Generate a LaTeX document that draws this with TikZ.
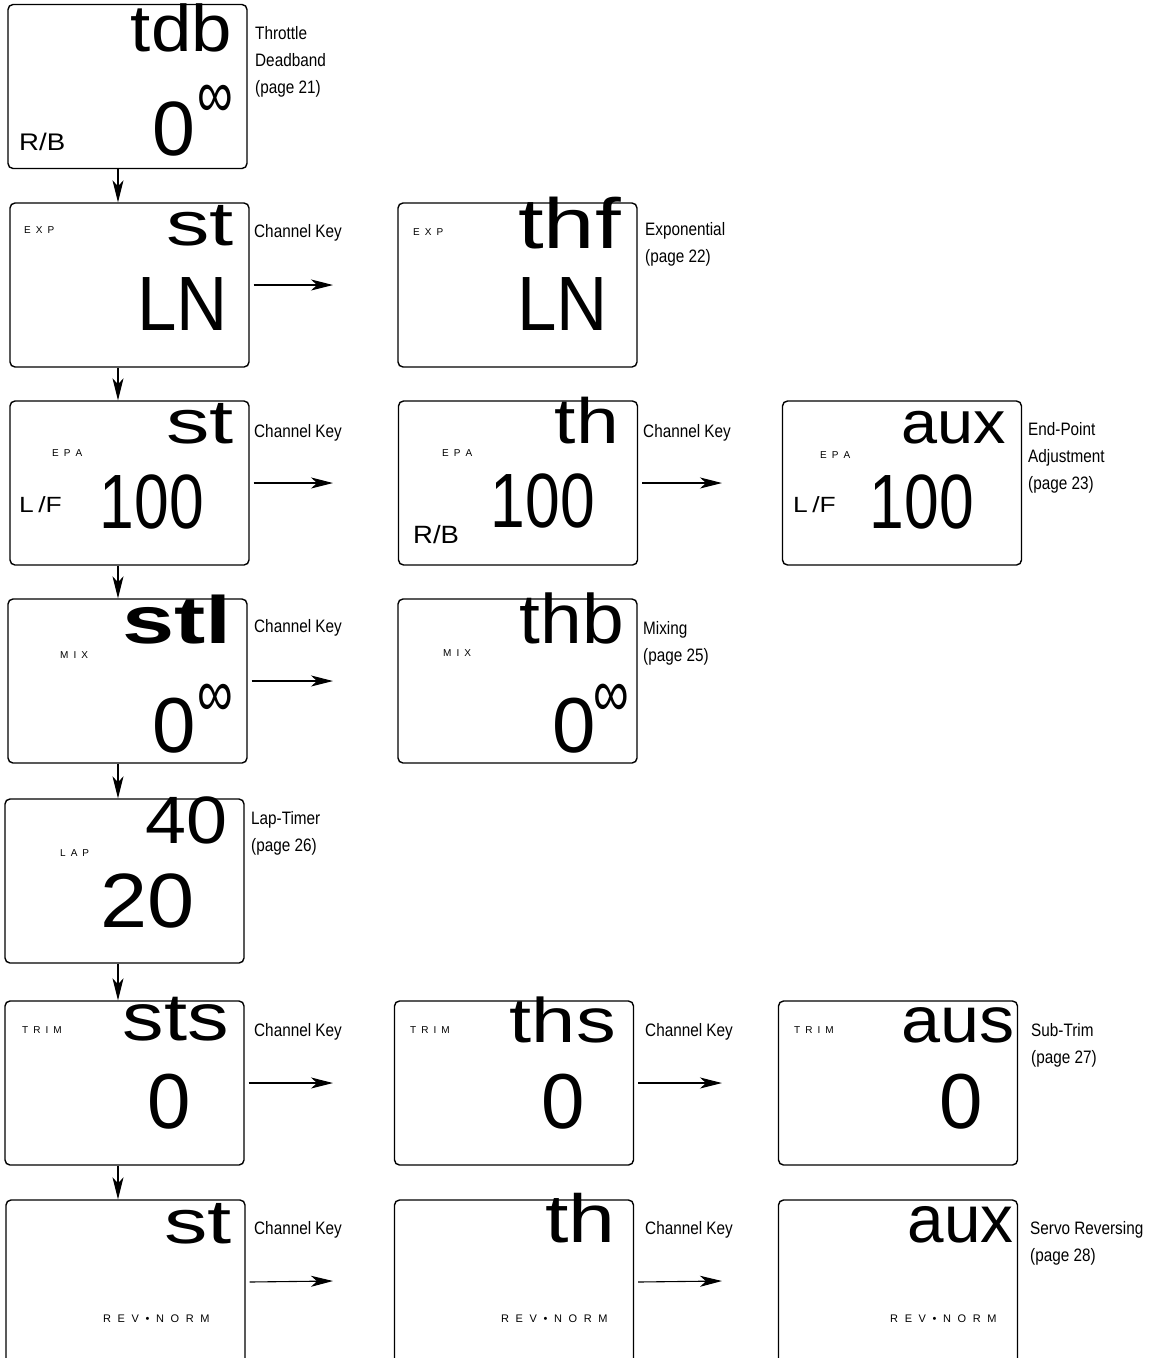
\documentclass[tikz,border=0pt]{standalone}
\usepackage{fontspec}
\setmainfont{Liberation Sans}
\newfontfamily\narrowfont[FakeStretch=0.85]{Liberation Sans}
\usetikzlibrary{arrows.meta}
\newcommand\lcd[3]{{\fontsize{#1}{#1}\selectfont\scalebox{#2}[1]{#3}}}
\newcommand\spc{\hspace{0.5em}}
\newcommand\rspc{\hspace{0.6em}}
\begin{document}
\begin{tikzpicture}[x=1pt,y=-1pt,
  lcdbox/.style={draw, line width=1.4pt, rounded corners=5pt, minimum width=239pt, minimum height=164pt, inner sep=0pt},
  big/.style={anchor=base east, inner sep=0pt},
  small/.style={anchor=base west, inner sep=0pt, font=\fontsize{10}{10}\selectfont},
  rev/.style={anchor=base west, inner sep=0pt, font=\fontsize{11}{11}\selectfont},
  mode/.style={anchor=base west, inner sep=0pt},
  note/.style={anchor=base west, inner sep=0pt, align=left, font=\narrowfont\fontsize{18}{27}\selectfont},
  inf/.style={inner sep=0pt, font=\fontsize{50}{50}\selectfont},
  arr/.style={-{Stealth[length=22pt,width=11pt,inset=6pt]}, line width=1.1pt},
]
\useasboundingbox (0,0) rectangle (1150,1358);
\clip (0,0) rectangle (1150,1358);
\fill[white] (0,0) rectangle (1150,1358);

% boxes
\node[lcdbox] (b1) at (127.5,86.5) {};
\node[lcdbox] (b2) at (129.5,285) {};
\node[lcdbox] (b2r) at (517.5,285) {};
\node[lcdbox] (b3) at (129.5,483) {};
\node[lcdbox] (b3m) at (518,483) {};
\node[lcdbox] (b3r) at (902,483) {};
\node[lcdbox] (b4) at (127.5,681) {};
\node[lcdbox] (b4r) at (517.5,681) {};
\node[lcdbox] (b5) at (124.5,881) {};
\node[lcdbox] (b6) at (124.5,1083) {};
\node[lcdbox] (b6m) at (514,1083) {};
\node[lcdbox] (b6r) at (898,1083) {};
\node[lcdbox] (b7) at (125.5,1282) {};
\node[lcdbox] (b7m) at (514,1282) {};
\node[lcdbox] (b7r) at (898,1282) {};

% row 1
\node[big] (t1) at (232,51) {\lcd{66}{1.1}{tdb}};
\node[big] (v1) at (196,155) {\lcd{77}{1}{0}};
\node[inf] (i1) at (215,101) {\scalebox{1}[1.35]{∞}};
\node[mode] (m1) at (19,150) {\lcd{24}{1.15}{R/B}};
\node[note] (n1) at (255,93) {Throttle\\Deadband\\(page 21)};

% row 2 EXP
\node[small] (s2) at (24,233) {E\spc X\spc P};
\node[big] (t2) at (234,245) {\lcd{62}{1.4}{st}};
\node[big] (v2) at (228,330) {\lcd{77}{0.92}{LN}};
\node[note] (k2) at (254,237) {Channel Key};
\node[small] (s2r) at (413,235) {E\spc X\spc P};
\node[big] (t2r) at (621,248) {\lcd{71}{1.3}{thf}};
\node[big] (v2r) at (608,330) {\lcd{77}{0.92}{LN}};
\node[note] (n2) at (645,262) {Exponential\\(page 22)};

% row 3 EPA
\node[small] (s3) at (52,456) {E\spc P\spc A};
\node[big] (t3) at (234,443) {\lcd{62}{1.4}{st}};
\node[mode] (m3) at (19,512) {\lcd{22}{1.2}{L\,/F}};
\node[big] (v3) at (204,528) {\lcd{77}{0.81}{100}};
\node[note] (k3) at (254,437) {Channel Key};
\node[small] (s3m) at (442,456) {E\spc P\spc A};
\node[big] (t3m) at (619,443) {\lcd{64}{1.2}{th}};
\node[big] (v3m) at (595,527) {\lcd{77}{0.81}{100}};
\node[mode] (m3m) at (413,543) {\lcd{25}{1.1}{R/B}};
\node[note] (k3m) at (643,437) {Channel Key};
\node[small] (s3r) at (820,458) {E\spc P\spc A};
\node[big] (t3r) at (1006,443) {\lcd{60}{1.08}{aux}};
\node[mode] (m3r) at (793,512) {\lcd{22}{1.2}{L\,/F}};
\node[big] (v3r) at (974,528) {\lcd{77}{0.81}{100}};
\node[note] (n3) at (1028,489) {End-Point\\Adjustment\\(page 23)};

% row 4 MIX
\node[small] (s4) at (60,658) {M\spc I\spc X};
\node[big] (t4) at (232,643) {\lcd{67}{1.4}{\bfseries stl}};
\node[big] (v4) at (196,752) {\lcd{78}{1}{0}};
\node[inf] (i4) at (215,700) {\scalebox{1}[1.35]{∞}};
\node[note] (k4) at (254,632) {Channel Key};
\node[small] (s4r) at (443,656) {M\spc I\spc X};
\node[big] (t4r) at (624,643) {\lcd{70}{1.07}{thb}};
\node[big] (v4r) at (596,752) {\lcd{78}{1}{0}};
\node[inf] (i4r) at (611,700) {\scalebox{1}[1.35]{∞}};
\node[note] (n4) at (643,661) {Mixing\\(page 25)};

% row 5 LAP
\node[small] (s5) at (60,856) {L\spc A\spc P};
\node[big] (t5) at (228,843) {\lcd{67}{1.1}{40}};
\node[big] (v5) at (195,927) {\lcd{77}{1.1}{20}};
\node[note] (n5) at (251,851) {Lap-Timer\\(page 26)};

% row 6 TRIM
\node[small] (s6) at (22,1033) {T\spc R\spc I\spc M};
\node[big] (t6) at (229,1040) {\lcd{67}{1.24}{sts}};
\node[big] (v6) at (191,1128) {\lcd{78}{1}{0}};
\node[note] (k6) at (254,1036) {Channel Key};
\node[small] (s6m) at (410,1033) {T\spc R\spc I\spc M};
\node[big] (t6m) at (616,1042) {\lcd{63}{1.26}{ths}};
\node[big] (v6m) at (585,1128) {\lcd{78}{1}{0}};
\node[note] (k6m) at (645,1036) {Channel Key};
\node[small] (s6r) at (794,1033) {T\spc R\spc I\spc M};
\node[big] (t6r) at (1015,1042) {\lcd{65}{1.08}{aus}};
\node[big] (v6r) at (983,1128) {\lcd{78}{1}{0}};
\node[note] (n6) at (1031,1063) {Sub-Trim\\(page 27)};

% row 7 REV
\node[big] (t7) at (232,1243) {\lcd{62}{1.4}{st}};
\node[rev] (r7) at (103,1322) {R\rspc E\rspc V\rspc •\rspc N\rspc O\rspc R\rspc M};
\node[note] (k7) at (254,1234) {Channel Key};
\node[big] (t7m) at (616,1242) {\lcd{68}{1.24}{th}};
\node[rev] (r7m) at (501,1322) {R\rspc E\rspc V\rspc •\rspc N\rspc O\rspc R\rspc M};
\node[note] (k7m) at (645,1234) {Channel Key};
\node[big] (t7r) at (1014,1242) {\lcd{67}{0.98}{aux}};
\node[rev] (r7r) at (890,1322) {R\rspc E\rspc V\rspc •\rspc N\rspc O\rspc R\rspc M};
\node[note] (n7) at (1030,1261) {Servo Reversing\\(page 28)};

% vertical arrows
\coordinate (vx) at (118,0);
\draw[arr] (b1.south -| vx) -- (b2.north -| vx);
\draw[arr] (b2.south -| vx) -- (b3.north -| vx);
\draw[arr] (b3.south -| vx) -- (b4.north -| vx);
\draw[arr] (b4.south -| vx) -- (b5.north -| vx);
\draw[arr] (b5.south -| vx) -- (b6.north -| vx);
\draw[arr] (b6.south -| vx) -- (b7.north -| vx);

% horizontal arrows
\coordinate (e2) at (333,285);
\coordinate (e3) at (333,483);
\coordinate (e3m) at (722,483);
\coordinate (e4) at (333,681);
\coordinate (e6) at (333,1083);
\coordinate (e6m) at (722,1083);
\coordinate (e7) at (333,1281);
\coordinate (e7m) at (722,1281);
\draw[arr] ([xshift=4pt]b2.east) -- (e2);
\draw[arr] ([xshift=4pt]b3.east) -- (e3);
\draw[arr] ([xshift=4pt]b3m.east) -- (e3m);
\draw[arr] ([xshift=4pt]b4.east) -- (e4);
\draw[arr] ([xshift=4pt]b6.east) -- (e6);
\draw[arr] ([xshift=4pt]b6m.east) -- (e6m);
\draw[arr] ([xshift=4pt]b7.east) -- (e7);
\draw[arr] ([xshift=4pt]b7m.east) -- (e7m);
\end{tikzpicture}
\end{document}
